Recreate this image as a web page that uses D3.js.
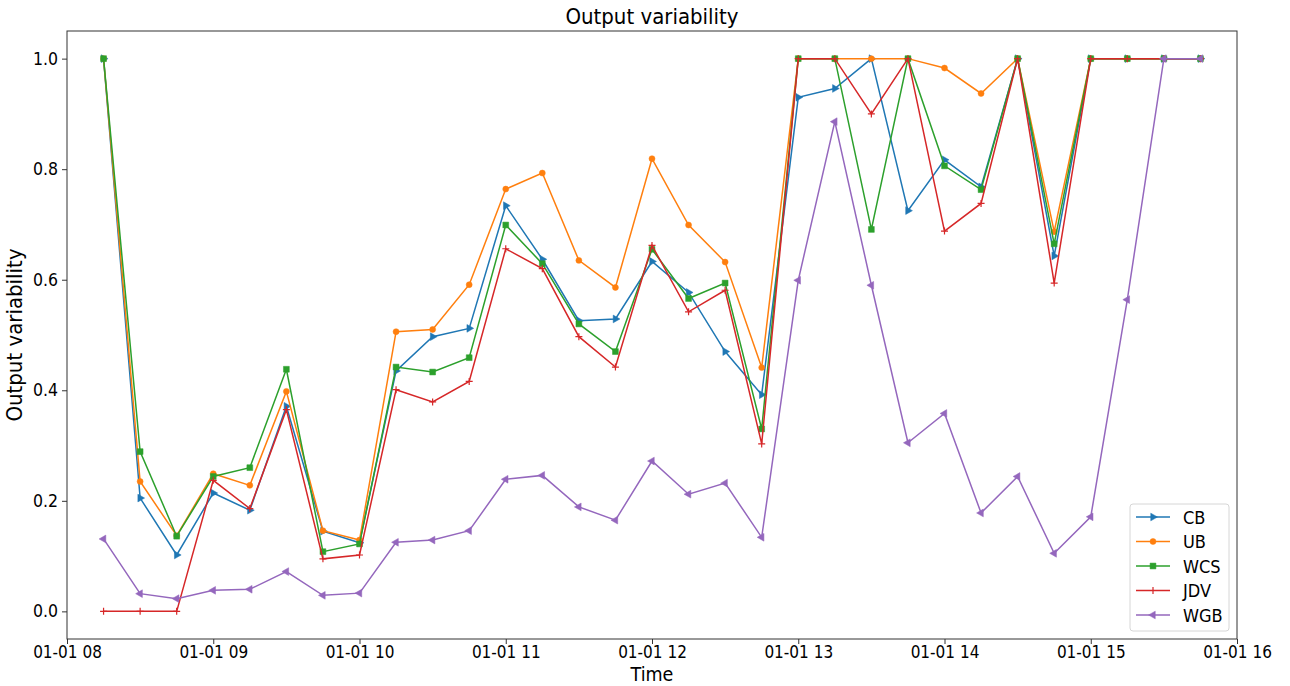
<!DOCTYPE html>
<html>
<head>
<meta charset="utf-8">
<script src="https://cdn.jsdelivr.net/npm/d3@7"></script>
<style>
  body { margin: 0; background: #fff; }
  text { font-family: "DejaVu Sans Condensed", "DejaVu Sans", sans-serif; font-stretch: condensed; fill: #000; }
</style>
</head>
<body>
<div id="chart"></div>
<script>
// sample times (01-01), every 15 minutes
var times = ["08:15","08:30","08:45","09:00","09:15","09:30","09:45","10:00",
             "10:15","10:30","10:45","11:00","11:15","11:30","11:45","12:00",
             "12:15","12:30","12:45","13:00","13:15","13:30","13:45","14:00",
             "14:15","14:30","14:45","15:00","15:15","15:30","15:45"];

var seriesNames = ["CB", "UB", "WCS", "JDV", "WGB"];

var cb  = [1.0, 0.205, 0.102, 0.214, 0.183, 0.371, 0.145, 0.124,
           0.435, 0.497, 0.512, 0.734, 0.637, 0.526, 0.529, 0.633,
           0.577, 0.470, 0.392, 0.930, 0.946, 1.0, 0.725, 0.817,
           0.768, 1.0, 0.643, 1.0, 1.0, 1.0, 1.0];
var ub  = [1.0, 0.235, 0.137, 0.249, 0.228, 0.398, 0.146, 0.129,
           0.506, 0.510, 0.591, 0.764, 0.793, 0.635, 0.586, 0.819,
           0.699, 0.632, 0.441, 1.0, 1.0, 1.0, 1.0, 0.983,
           0.937, 1.0, 0.687, 1.0, 1.0, 1.0, 1.0];
var wcs = [1.0, 0.289, 0.136, 0.244, 0.260, 0.438, 0.108, 0.122,
           0.442, 0.433, 0.459, 0.699, 0.629, 0.520, 0.470, 0.655,
           0.566, 0.594, 0.330, 1.0, 1.0, 0.691, 1.0, 0.806,
           0.763, 1.0, 0.665, 1.0, 1.0, 1.0, 1.0];
var jdv = [0.0, 0.0, 0.0, 0.237, 0.186, 0.365, 0.095, 0.102,
           0.401, 0.379, 0.416, 0.656, 0.620, 0.497, 0.442, 0.662,
           0.542, 0.581, 0.303, 1.0, 1.0, 0.900, 1.0, 0.688,
           0.738, 1.0, 0.594, 1.0, 1.0, 1.0, 1.0];
var wgb = [0.131, 0.032, 0.023, 0.038, 0.040, 0.072, 0.029, 0.033,
           0.125, 0.129, 0.146, 0.239, 0.246, 0.189, 0.165, 0.272,
           0.212, 0.232, 0.134, 0.599, 0.886, 0.590, 0.305, 0.358,
           0.178, 0.244, 0.105, 0.171, 0.564, 1.0, 1.0];

var colors = ["#1f77b4", "#ff7f0e", "#2ca02c", "#d62728", "#9467bd"];
var markers = ["tri-right", "circle", "square", "plus", "tri-left"];

// set the dimensions and margins of the graph
var margin = {top: 31, right: 53, bottom: 47, left: 67},
    fullW = 1290, fullH = 686,
    width = fullW - margin.left - margin.right,
    height = fullH - margin.top - margin.bottom;

var parseTime = d3.timeParse("%Y-%m-%d %H:%M");
var dates = times.map(function (t) { return parseTime("2000-01-01 " + t); });

var x = d3.scaleTime()
    .domain([parseTime("2000-01-01 08:00"), parseTime("2000-01-01 16:00")])
    .range([0, width]);
var y = d3.scaleLinear().domain([-0.05, 1.05]).range([height, 0]);

var svg = d3.select("#chart").append("svg")
    .attr("width", fullW)
    .attr("height", fullH)
    .append("g")
    .attr("transform", "translate(" + margin.left + "," + margin.top + ")");

// title
svg.append("text")
    .attr("x", width / 2)
    .attr("y", -7)
    .attr("text-anchor", "middle")
    .style("font-size", "22px")
    .text("Output variability");

// axes
var xAxis = svg.append("g")
    .attr("transform", "translate(0," + height + ")")
    .call(d3.axisBottom(x).ticks(d3.timeHour.every(1))
        .tickFormat(d3.timeFormat("01-01 %H")).tickSize(5).tickPadding(2));
var yAxis = svg.append("g")
    .call(d3.axisLeft(y).tickValues([0, 0.2, 0.4, 0.6, 0.8, 1.0])
        .tickFormat(d3.format(".1f")).tickSize(5).tickPadding(4));

[xAxis, yAxis].forEach(function (a) {
    a.selectAll("text").style("font-size", "17.5px").attr("font-family", null);
    a.selectAll("line").attr("stroke", "#333");
    a.select(".domain").remove();
});
xAxis.selectAll("text").style("font-size", "17px");

// frame
svg.append("rect")
    .attr("width", width)
    .attr("height", height)
    .attr("fill", "none")
    .attr("stroke", "#333")
    .attr("stroke-width", 1);

// axis labels
svg.append("text")
    .attr("text-anchor", "middle")
    .attr("transform", "translate(" + (-45) + "," + (height / 2) + ")rotate(-90)")
    .style("font-size", "22px")
    .text("Output variability");

svg.append("text")
    .attr("text-anchor", "middle")
    .attr("x", width / 2)
    .attr("y", height + 42)
    .style("font-size", "19.5px")
    .text("Time");

function markerPath(kind) {
    if (kind === "circle") return d3.symbol().type(d3.symbolCircle).size(28)();
    if (kind === "square") return d3.symbol().type(d3.symbolSquare).size(34)();
    if (kind === "plus") return "M-3.5,0H3.5M0,-3.5V3.5";
    return d3.symbol().type(d3.symbolTriangle).size(26)();
}
function markerRot(kind) {
    if (kind === "tri-right") return 90;
    if (kind === "tri-left") return -90;
    return 0;
}

var allSeries = [cb, ub, wcs, jdv, wgb];

var valueline = d3.line()
    .x(function (d) { return x(d.date); })
    .y(function (d) { return y(d.v); });

allSeries.forEach(function (vals, k) {
    var data = vals.map(function (v, i) { return {date: dates[i], v: v}; });
    var g = svg.append("g");
    g.append("path")
        .datum(data)
        .attr("fill", "none")
        .attr("stroke", colors[k])
        .attr("stroke-width", 1.5)
        .attr("d", valueline);
    g.selectAll("path.mk").data(data)
        .enter()
        .append("path")
        .attr("class", "mk")
        .attr("d", markerPath(markers[k]))
        .attr("transform", function (d) {
            return "translate(" + x(d.date) + "," + y(d.v) + ")rotate(" + markerRot(markers[k]) + ")";
        })
        .attr("fill", markers[k] === "plus" ? "none" : colors[k])
        .attr("stroke", colors[k])
        .attr("stroke-width", markers[k] === "plus" ? 1.2 : 0.5);
});

// legend
var lgX = width - 107, lgY = height - 135;
var legend = svg.append("g").attr("transform", "translate(" + lgX + "," + lgY + ")");
legend.append("rect")
    .attr("width", 99)
    .attr("height", 127)
    .attr("rx", 3)
    .attr("fill", "#fff")
    .attr("fill-opacity", 0.8)
    .attr("stroke", "#d6d6d6");
seriesNames.forEach(function (name, k) {
    var ly = 13 + k * 24.5;
    legend.append("line")
        .attr("x1", 6).attr("x2", 40)
        .attr("y1", ly).attr("y2", ly)
        .attr("stroke", colors[k])
        .attr("stroke-width", 1.5);
    legend.append("path")
        .attr("d", markerPath(markers[k]))
        .attr("transform", "translate(23," + ly + ")rotate(" + markerRot(markers[k]) + ")")
        .attr("fill", markers[k] === "plus" ? "none" : colors[k])
        .attr("stroke", colors[k])
        .attr("stroke-width", markers[k] === "plus" ? 1.2 : 0.5);
    legend.append("text")
        .attr("x", 53)
        .attr("y", ly + 6.5)
        .style("font-size", "18px")
        .text(name);
});
</script>
</body>
</html>
